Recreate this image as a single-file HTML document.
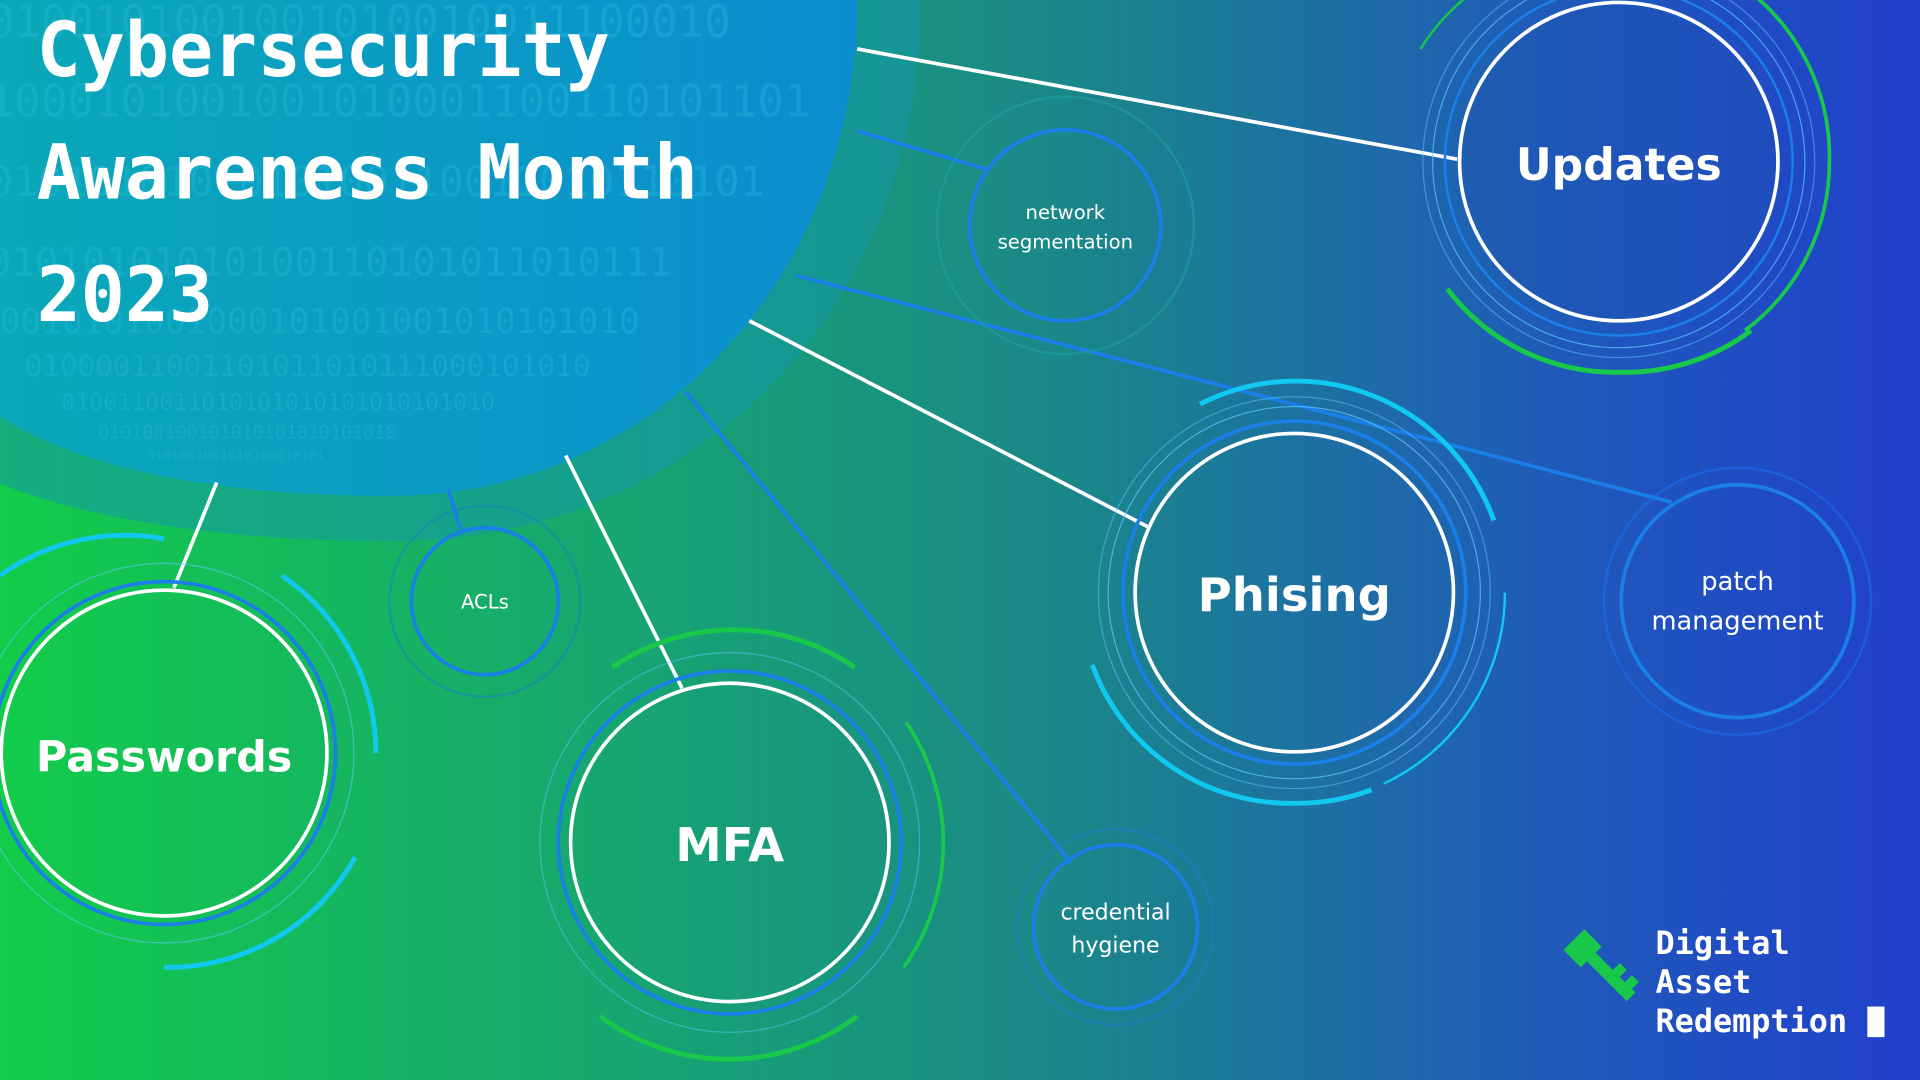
<!DOCTYPE html>
<html><head><meta charset="utf-8"><style>
html,body{margin:0;padding:0;width:1920px;height:1080px;overflow:hidden;background:#1a8a8a}
svg{display:block}
</style></head><body>
<svg width="1920" height="1080" viewBox="0 0 1568 882" preserveAspectRatio="none" xmlns="http://www.w3.org/2000/svg">
<defs>
<linearGradient id="bg" x1="0" y1="0" x2="1" y2="0">
<stop offset="0" stop-color="#12cc4a"/>
<stop offset="0.35" stop-color="#17a274"/>
<stop offset="0.55" stop-color="#1a8888"/>
<stop offset="0.8" stop-color="#1f5cb8"/>
<stop offset="1" stop-color="#2140cc"/>
</linearGradient>
<linearGradient id="sph" x1="0" y1="0" x2="1" y2="0">
<stop offset="0" stop-color="#0aa8b8"/>
<stop offset="1" stop-color="#0a8ed0"/>
</linearGradient>
<clipPath id="sc"><path d="M700 0 C700 230 530 405 320 405 C170 405 60 380 0 340 L0 0 Z"/></clipPath>
</defs>
<rect width="1568" height="882" fill="url(#bg)"/>
<path d="M752 0 C752 260 560 442 320 442 C170 442 60 420 0 395 L0 0 Z" fill="#1597a8" opacity="0.55"/>
<path d="M700 0 C700 230 530 405 320 405 C170 405 60 380 0 340 L0 0 Z" fill="url(#sph)"/>
<g clip-path="url(#sc)" fill="#2fc0e0" opacity="0.3" font-family="DejaVu Sans Mono, monospace">
<text x="-10" y="30" font-size="36">0100101001001010010011100010</text>
<text x="-10" y="95" font-size="36">1000101001001010001100110101101</text>
<text x="-10" y="160" font-size="34">0101010101010100110011010110101</text>
<text x="-10" y="225" font-size="32">01010101010100110101011010111</text>
<text x="0" y="272" font-size="28">0010101001000101001001010101010</text>
<text x="20" y="307" font-size="24">01000011001101011010111000101010</text>
<text x="50" y="335" font-size="19">0100110011010101010101010101010</text>
<text x="80" y="358" font-size="15">010100100101010101010101010</text>
<text x="120" y="376" font-size="11">0101001001010100010101</text>
</g>
<g fill="#fff" font-family="DejaVu Sans Mono, monospace" font-weight="bold" font-size="62">
<text x="30" y="62" textLength="468" lengthAdjust="spacingAndGlyphs">Cybersecurity</text>
<text x="30" y="162" textLength="540" lengthAdjust="spacingAndGlyphs">Awareness Month</text>
<text x="30" y="262" textLength="144" lengthAdjust="spacingAndGlyphs">2023</text>
</g>
<g stroke-width="3" fill="none">
<line x1="700" y1="40" x2="1190" y2="130" stroke="#fff"/>
<line x1="700" y1="107" x2="805" y2="138" stroke="#1a7fe8"/>
<line x1="650" y1="225" x2="1365" y2="410" stroke="#1a7fe8"/>
<line x1="612" y1="262" x2="937" y2="430" stroke="#fff"/>
<line x1="560" y1="320" x2="875" y2="705" stroke="#1a7fe8"/>
<line x1="462" y1="372" x2="557" y2="562" stroke="#fff"/>
<line x1="366" y1="400" x2="376" y2="432" stroke="#1a7fe8"/>
<line x1="177" y1="394" x2="142" y2="480" stroke="#fff"/>
</g>
<g fill="none">
<circle cx="1322" cy="132" r="142" stroke="#1a7fe8" stroke-width="2"/>
<circle cx="1322" cy="132" r="152" stroke="#5cc8ff" stroke-width="1" opacity="0.7"/>
<circle cx="1322" cy="132" r="160" stroke="#5cc8ff" stroke-width="1" opacity="0.5"/>
<path d="M1182 236 A172 172 0 0 0 1322 304 A172 172 0 0 0 1430 270" stroke="#18c84a" stroke-width="4"/>
<path d="M1160 40 A172 172 0 0 1 1322 -40" stroke="#18c84a" stroke-width="2"/>
<path d="M1430 -6 A172 172 0 0 1 1494 132 A172 172 0 0 1 1425 270" stroke="#18c84a" stroke-width="3"/>
<circle cx="1322" cy="132" r="130" stroke="#fff" stroke-width="3" fill="#1e52b0" fill-opacity="0.3"/>
</g>
<circle cx="870" cy="184" r="105" fill="none" stroke="#1ea0a0" stroke-width="2" opacity="0.6"/>
<circle cx="870" cy="184" r="78" fill="none" stroke="#1a7fe8" stroke-width="3"/>
<g fill="none">
<circle cx="1057" cy="484" r="140" stroke="#1a7fe8" stroke-width="3"/>
<circle cx="1057" cy="484" r="152" stroke="#5cc8ff" stroke-width="1" opacity="0.7"/>
<circle cx="1057" cy="484" r="160" stroke="#5cc8ff" stroke-width="1" opacity="0.5"/>
<path d="M980 330 A172 172 0 0 1 1220 425" stroke="#10c8f0" stroke-width="4"/>
<path d="M892 543 A172 172 0 0 0 1057 656 A172 172 0 0 0 1120 645" stroke="#10c8f0" stroke-width="4"/>
<path d="M1130 640 A172 172 0 0 0 1229 484" stroke="#10c8f0" stroke-width="2"/>
<circle cx="1057" cy="484" r="130" stroke="#fff" stroke-width="3"/>
</g>
<circle cx="1419" cy="491" r="109" fill="none" stroke="#1a6ff0" stroke-width="2" opacity="0.55"/>
<circle cx="1419" cy="491" r="95" fill="none" stroke="#1a7fe8" stroke-width="3"/>
<g fill="none">
<circle cx="134" cy="615" r="140" stroke="#1a7fe8" stroke-width="3"/>
<circle cx="134" cy="615" r="155" stroke="#5cc8ff" stroke-width="1" opacity="0.6"/>
<path d="M0 470 A175 175 0 0 1 134 440" stroke="#10c8f0" stroke-width="4"/>
<path d="M230 470 A175 175 0 0 1 307 615" stroke="#10c8f0" stroke-width="4"/>
<path d="M290 700 A175 175 0 0 1 134 790" stroke="#10c8f0" stroke-width="4"/>
<circle cx="134" cy="615" r="133" stroke="#fff" stroke-width="3"/>
</g>
<circle cx="396" cy="491" r="78" fill="none" stroke="#1a80c0" stroke-width="2" opacity="0.5"/>
<circle cx="396" cy="491" r="60" fill="none" stroke="#1a7fe8" stroke-width="3"/>
<g fill="none">
<circle cx="596" cy="688" r="140" stroke="#1a7fe8" stroke-width="3"/>
<circle cx="596" cy="688" r="155" stroke="#5cc8ff" stroke-width="1" opacity="0.5"/>
<path d="M500 545 A175 175 0 0 1 698 545" stroke="#18c84a" stroke-width="4"/>
<path d="M740 590 A175 175 0 0 1 738 790" stroke="#18c84a" stroke-width="3"/>
<path d="M700 830 A175 175 0 0 1 490 830" stroke="#18c84a" stroke-width="4"/>
<circle cx="596" cy="688" r="130" stroke="#fff" stroke-width="3"/>
</g>
<circle cx="911" cy="757" r="80" fill="none" stroke="#1a80d0" stroke-width="2" opacity="0.5"/>
<circle cx="911" cy="757" r="67" fill="none" stroke="#1a7fe8" stroke-width="3"/>
<g fill="#fff" font-family="DejaVu Sans, sans-serif" text-anchor="middle">
<text x="1322" y="147" font-size="36" font-weight="bold">Updates</text>
<text x="1057" y="499" font-size="38" font-weight="bold">Phising</text>
<text x="134" y="630" font-size="35" font-weight="bold">Passwords</text>
<text x="596" y="703" font-size="38" font-weight="bold">MFA</text>
<text x="870" y="179" font-size="16">network</text>
<text x="870" y="203" font-size="16">segmentation</text>
<text x="1419" y="482" font-size="21">patch</text>
<text x="1419" y="514" font-size="21">management</text>
<text x="396" y="497" font-size="16">ACLs</text>
<text x="911" y="751" font-size="18">credential</text>
<text x="911" y="778" font-size="18">hygiene</text>
</g>
<g fill="#18c84a" transform="translate(1308,790) rotate(-45)">
<rect x="-12" y="-32" width="24" height="20"/>
<rect x="-5" y="-12" width="10" height="46"/>
<rect x="5" y="8" width="8" height="8"/>
<rect x="5" y="22" width="8" height="8"/>
</g>
<g fill="#fff" font-family="DejaVu Sans Mono, monospace" font-weight="bold" font-size="26">
<text x="1352" y="779">Digital</text>
<text x="1352" y="811">Asset</text>
<text x="1352" y="843">Redemption</text>
</g>
<rect x="1525" y="822" width="14" height="25" fill="#fff"/>
</svg>
</body></html>
